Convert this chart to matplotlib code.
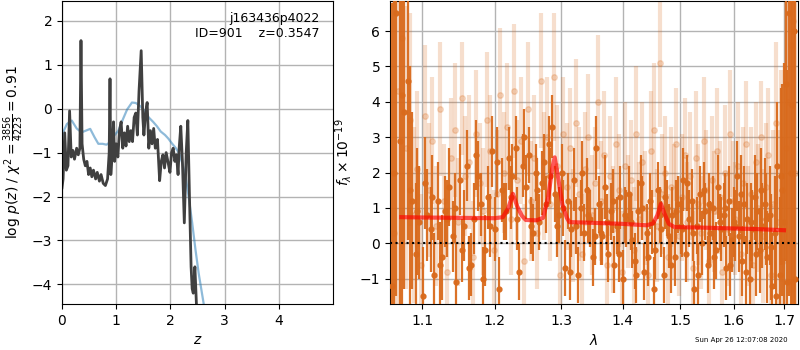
import numpy as np
import matplotlib
matplotlib.use("Agg")
import matplotlib.pyplot as plt
from matplotlib.ticker import NullLocator

# ---- p(z) panel ----
z_pz = [0.00, 0.02, 0.05, 0.08, 0.11, 0.14, 0.17, 0.20, 0.23, 0.27,
        0.30, 0.33, 0.35, 0.37, 0.40, 0.43, 0.46, 0.49, 0.52, 0.55,
        0.58, 0.62, 0.65, 0.69, 0.72, 0.76, 0.80, 0.84, 0.87, 0.885,
        0.90, 0.93, 0.95, 0.97, 1.00, 1.03, 1.06, 1.09, 1.12, 1.15,
        1.18, 1.21, 1.24, 1.27, 1.30, 1.33, 1.36, 1.39, 1.42, 1.46,
        1.49, 1.51, 1.54, 1.57, 1.60, 1.63, 1.66, 1.69, 1.72, 1.76,
        1.80, 1.83, 1.86, 1.89, 1.92, 1.96, 1.99, 2.02, 2.05, 2.08,
        2.11, 2.14, 2.16, 2.19, 2.22, 2.255, 2.29, 2.32, 2.35, 2.38,
        2.40, 2.42, 2.45, 2.48, 2.52]
logp = [-1.8, -1.6, -0.55, -1.4, -1.3, -0.05, -1.1, -0.95, -1.15, -0.9,
        -1.05, -0.9, 1.55, -0.8, -1.15, -1.3, -1.2, -1.5, -1.35, -1.55,
        -1.4, -1.6, -1.45, -1.65, -1.5, -1.7, -1.75, -1.6, -1.0, 0.68,
        -1.5, -0.9, -0.3, -1.2, -0.8, -1.1, -0.5, -0.3, -0.9, -0.55,
        -0.85, -0.4, -0.75, -0.5, -0.75, -0.2, -0.1, -0.6, 0.4, 1.32,
        -0.2, -0.6, -0.1, 0.14, -0.9, -0.5, -0.8, -0.45, -0.9, -0.7,
        -1.64, -1.2, -1.05, -1.35, -1.0, -1.25, -1.45, -1.0, -0.9, -1.2,
        -1.05, -1.5, -0.9, -0.4, -1.2, -2.6, -1.0, -0.27, -2.0, -3.6,
        -4.1, -4.2, -3.6, -4.5, -6.0]

z_prior = [0.00, 0.02, 0.09, 0.18, 0.27, 0.36, 0.44, 0.52, 0.60, 0.67,
           0.75, 0.82, 0.90, 0.97, 1.04, 1.12, 1.20, 1.29, 1.36, 1.44,
           1.52, 1.60, 1.68, 1.75, 1.82, 1.90, 1.96, 2.02, 2.10, 2.16,
           2.22, 2.28, 2.34, 2.40, 2.46, 2.52, 2.58, 2.62, 2.68]
logp_prior = [-0.7, -0.54, -0.35, -0.27, -0.45, -0.54, -0.5, -0.46, -0.65, -0.8,
              -0.8, -0.82, -0.75, -0.6, -0.5, -0.25, -0.02, 0.14, 0.13, 0.06,
              -0.05, -0.2, -0.3, -0.4, -0.52, -0.6, -0.68, -0.78, -0.9, -1.02,
              -1.25, -1.55, -2.05, -2.6, -3.2, -3.75, -4.2, -4.5, -5.2]

# ---- spectrum panel: beam A ----
wave = [1.061, 1.066, 1.071, 1.076, 1.081, 1.086, 1.091, 1.096, 1.101, 1.106,
        1.111, 1.116, 1.121, 1.126, 1.131, 1.136, 1.141, 1.146, 1.151, 1.156,
        1.161, 1.166, 1.171, 1.176, 1.181, 1.186, 1.191, 1.196, 1.201, 1.206,
        1.211, 1.216, 1.221, 1.226, 1.231, 1.236, 1.241, 1.246, 1.251, 1.256,
        1.261, 1.266, 1.271, 1.276, 1.281, 1.286, 1.291, 1.296, 1.301, 1.306,
        1.311, 1.316, 1.321, 1.326, 1.331, 1.336, 1.341, 1.346, 1.351, 1.356,
        1.361, 1.366, 1.371, 1.376, 1.381, 1.386, 1.391, 1.396, 1.401, 1.406,
        1.411, 1.416, 1.421, 1.426, 1.431, 1.436, 1.441, 1.446, 1.451, 1.456,
        1.461, 1.466, 1.471, 1.476, 1.481, 1.486, 1.491, 1.496, 1.501, 1.506,
        1.511, 1.516, 1.521, 1.526, 1.531, 1.536, 1.541, 1.546, 1.551, 1.556,
        1.561, 1.566, 1.571, 1.576, 1.581, 1.586, 1.591, 1.596, 1.601, 1.606,
        1.611, 1.616, 1.621, 1.626, 1.631, 1.636, 1.641, 1.646, 1.651, 1.656,
        1.661, 1.666, 1.671, 1.676, 1.681, 1.686, 1.691, 1.696, 1.701, 1.706,
        1.711, 1.716, 1.721]
flux = [-1.2, 6.5, 2.9, 3.7, 4.6, 1.2, -0.3, 0.6, -1.5, 0.8,
        0.4, -0.9, 1.2, -0.4, 0.9, 1.6, 0.2, -1.1, 1.8, 0.5,
        2.2, -0.6, 0.7, 1.9, 1.1, -0.2, 1.3, 2.6, 0.4, -1.3,
        1.5, 0.9, 2.4, 1.9, 2.7, -0.8, 2.2, 1.6, 2.5, 0.3,
        2.0, 0.6, 1.7, 1.1, 2.8, 3.3, 1.4, 0.8, 2.0, -0.7,
        1.2, 0.4, 1.8, -0.9, 1.0, 0.3, 1.5, 0.7, -0.4, 2.7,
        1.1, 0.2, 1.6, -0.3, 0.9, -0.6, 0.5, 1.3, -1.0, 0.7,
        1.4, 0.1, -0.5, 0.9, 1.7, -0.8, 0.3, 1.2, 0.6, -0.2,
        1.5, 0.4, -0.9, 1.0, 0.2, 0.8, -0.4, 1.1, 0.5, 1.8,
        -0.3, 0.7, 1.2, -1.3, 0.5, 1.4, 0.0, 0.9, -0.6, 0.3,
        1.0, -0.2, 1.6, 0.4, 0.8, -0.7, 1.2, 0.1, 0.6, 1.9,
        0.2, -0.5, 1.1, 0.7, -1.0, 0.4, 1.3, 0.9, -0.2, 0.5,
        1.1, -0.4, 0.8, -1.2, 0.3, 2.2, -0.9, 1.5, 0.6, -1.1,
        6.5, 3.9, 6.0]
err = [8.0, 8.0, 6.0, 5.0, 4.5, 2.5, 2.0, 1.6, 1.4, 1.3,
       1.2, 1.2, 1.1, 1.2, 1.0, 1.1, 1.0, 1.1, 1.0, 1.0,
       1.0, 0.9, 1.0, 1.0, 0.9, 1.0, 0.9, 1.0, 0.9, 0.9,
       0.9, 0.8, 0.9, 0.9, 0.9, 0.8, 0.9, 0.9, 0.8, 0.8,
       0.8, 0.8, 0.9, 0.8, 0.8, 0.9, 0.8, 0.8, 0.8, 0.8,
       0.8, 0.8, 0.9, 0.8, 0.8, 0.8, 0.9, 0.8, 0.8, 0.9,
       0.8, 0.8, 0.9, 0.8, 0.8, 0.8, 0.8, 0.9, 0.8, 0.8,
       0.8, 0.8, 0.8, 0.9, 0.8, 0.8, 0.8, 0.8, 0.9, 0.8,
       0.8, 0.8, 0.8, 0.8, 0.9, 0.8, 0.8, 0.8, 0.8, 0.9,
       0.8, 0.8, 0.9, 0.8, 0.8, 0.8, 0.9, 0.8, 0.8, 0.9,
       0.9, 0.8, 0.9, 0.9, 0.9, 0.9, 1.0, 0.9, 1.0, 1.0,
       1.0, 1.0, 1.1, 1.0, 1.1, 1.1, 1.2, 1.1, 1.2, 1.2,
       1.3, 1.3, 1.4, 1.5, 1.6, 1.8, 2.2, 3.0, 4.5, 6.0,
       8.0, 8.0, 8.0]

# beam B (coarser sampling)
wave_b = [1.0635, 1.0735, 1.0835, 1.0935, 1.1035, 1.1135, 1.1235, 1.1335, 1.1435, 1.1535,
          1.1635, 1.1735, 1.1835, 1.1935, 1.2035, 1.2135, 1.2235, 1.2335, 1.2435, 1.2535,
          1.2635, 1.2735, 1.2835, 1.2935, 1.3035, 1.3135, 1.3235, 1.3335, 1.3435, 1.3535,
          1.3635, 1.3735, 1.3835, 1.3935, 1.4035, 1.4135, 1.4235, 1.4335, 1.4435, 1.4535,
          1.4635, 1.4735, 1.4835, 1.4935, 1.5035, 1.5135, 1.5235, 1.5335, 1.5435, 1.5535,
          1.5635, 1.5735, 1.5835, 1.5935, 1.6035, 1.6135, 1.6235, 1.6335, 1.6435, 1.6535,
          1.6635, 1.6735, 1.6835, 1.6935, 1.7035, 1.7135, 1.7235]
flux_b = [2.0, 4.2, 1.5, 0.9, 1.7, 1.3, -0.6, 0.7, 1.0, -0.2,
          -0.7, 2.5, -1.0, 0.5, 2.3, 0.9, 1.3, 0.7, 3.0, 0.5,
          1.5, 2.3, 1.9, 0.5, 1.0, -0.8, 0.5, 2.0, 0.8, 0.2,
          0.3, 0.6, 1.2, -0.3, 0.8, 0.6, -0.9, 1.0, -0.4, -1.3,
          0.8, 1.3, -0.6, 0.9, 0.4, 1.7, 0.3, -0.9, 1.5, 1.1,
          -0.4, 0.6, 1.0, -0.6, 0.5, 1.4, -0.8, 0.6, -0.3, 1.5,
          0.7, -0.1, -1.5, 1.9, 4.5, 2.0, -1.0]
err_b = [8.0, 6.0, 3.5, 1.8, 1.3, 1.2, 1.2, 1.1, 1.0, 0.9,
         0.9, 1.0, 0.9, 0.9, 1.0, 0.8, 0.9, 0.9, 0.8, 0.8,
         0.9, 0.8, 0.8, 0.9, 0.8, 0.8, 0.8, 0.9, 0.8, 0.8,
         0.9, 0.8, 0.9, 0.8, 0.8, 0.8, 0.8, 0.9, 0.8, 0.9,
         0.8, 0.9, 0.8, 0.9, 0.8, 0.8, 0.8, 0.9, 0.8, 0.9,
         0.9, 0.8, 1.0, 0.9, 1.0, 1.1, 1.0, 1.1, 1.2, 1.2,
         1.3, 1.5, 1.7, 2.5, 5.0, 8.0, 8.0]

# faint (down-weighted) pixels on a shifted grid
wave_faint = [1.0635, 1.0685, 1.0735, 1.0785, 1.0835, 1.0885, 1.0935, 1.0985, 1.1035, 1.1085,
              1.1135, 1.1185, 1.1235, 1.1285, 1.1335, 1.1385, 1.1435, 1.1485, 1.1535, 1.1585,
              1.1635, 1.1685, 1.1735, 1.1785, 1.1835, 1.1885, 1.1935, 1.1985, 1.2035, 1.2085,
              1.2135, 1.2185, 1.2235, 1.2285, 1.2335, 1.2385, 1.2435, 1.2485, 1.2535, 1.2585,
              1.2635, 1.2685, 1.2735, 1.2785, 1.2835, 1.2885, 1.2935, 1.2985, 1.3035, 1.3085,
              1.3135, 1.3185, 1.3235, 1.3285, 1.3335, 1.3385, 1.3435, 1.3485, 1.3535, 1.3585,
              1.3635, 1.3685, 1.3735, 1.3785, 1.3835, 1.3885, 1.3935, 1.3985, 1.4035, 1.4085,
              1.4135, 1.4185, 1.4235, 1.4285, 1.4335, 1.4385, 1.4435, 1.4485, 1.4535, 1.4585,
              1.4635, 1.4685, 1.4735, 1.4785, 1.4835, 1.4885, 1.4935, 1.4985, 1.5035, 1.5085,
              1.5135, 1.5185, 1.5235, 1.5285, 1.5335, 1.5385, 1.5435, 1.5485, 1.5535, 1.5585,
              1.5635, 1.5685, 1.5735, 1.5785, 1.5835, 1.5885, 1.5935, 1.5985, 1.6035, 1.6085,
              1.6135, 1.6185, 1.6235, 1.6285, 1.6335, 1.6385, 1.6435, 1.6485, 1.6535, 1.6585,
              1.6635, 1.6685, 1.6735, 1.6785, 1.6835, 1.6885, 1.6935, 1.6985, 1.7035, 1.7085,
              1.7135, 1.7185, 1.7235]
flux_faint = [0.3, 4.3, 5.8, 2.7, 3.5, 0.8, 2.1, -0.6, 3.6, 1.5,
              2.9, 0.5, 3.8, 1.2, -0.8, 2.4, 3.2, 0.6, 4.1, 1.9,
              2.3, -0.4, 3.1, 1.7, 0.9, 3.5, 2.6, -0.2, 1.4, 4.2,
              2.0, 3.3, 0.7, 4.3, 1.8, 2.9, -0.5, 3.8, 1.2, 2.4,
              0.3, 4.6, 1.9, 3.0, 1.1, 4.7, 2.2, -0.9, 3.1, 1.6,
              2.7, 0.5, 3.4, 1.4, -0.3, 2.1, 3.0, 0.8, 1.7, 4.0,
              1.2, 2.5, -0.6, 1.9, 0.4, 2.8, 1.5, -0.8, 2.2, 0.9,
              1.8, -0.2, 3.1, 0.7, 2.3, 1.0, -0.9, 2.6, 3.2, 0.5,
              5.1, 1.4, 2.0, -0.4, 1.6, 0.9, 2.8, 0.2, 1.3, 2.5,
              0.6, 1.9, -0.7, 2.4, 1.1, 0.3, 2.9, 1.5, -0.5, 1.8,
              0.9, 2.6, 1.3, -0.8, 2.0, 0.4, 3.1, 1.2, 0.7, 2.2,
              -0.3, 1.7, 2.8, 0.5, 1.4, -0.6, 2.3, 1.0, 3.0, 0.2,
              1.6, 2.5, -0.9, 1.1, 3.4, 0.6, 1.9, -0.5, 2.7, 4.0,
              5.6, 6.3, 2.0]
err_faint = [8.0, 7.0, 6.0, 4.0, 3.0, 2.5, 2.2, 2.0, 2.0, 1.9,
             1.8, 1.7, 1.9, 1.6, 1.8, 1.7, 1.9, 1.8, 1.6, 1.7,
             1.9, 1.6, 1.8, 1.7, 1.8, 1.9, 1.6, 1.7, 1.8, 1.9,
             1.7, 1.8, 1.6, 1.9, 1.7, 1.8, 1.6, 1.9, 1.7, 1.8,
             1.6, 1.9, 1.8, 1.7, 1.6, 1.8, 1.7, 1.9, 1.6, 1.8,
             1.7, 1.6, 1.8, 1.9, 1.7, 1.6, 1.8, 1.7, 1.6, 1.9,
             1.7, 1.8, 1.6, 1.7, 1.8, 1.9, 1.6, 1.7, 1.8, 1.6,
             1.7, 1.8, 1.9, 1.6, 1.7, 1.6, 1.8, 1.7, 1.9, 1.6,
             1.8, 1.7, 1.6, 1.8, 1.7, 1.9, 1.6, 1.7, 1.8, 1.6,
             1.7, 1.8, 1.6, 1.9, 1.7, 1.6, 1.8, 1.7, 1.6, 1.8,
             1.7, 1.8, 1.6, 1.7, 1.9, 1.6, 1.8, 1.7, 1.6, 1.8,
             1.7, 1.6, 1.8, 1.7, 1.9, 1.6, 1.7, 1.8, 1.6, 1.9,
             1.8, 1.9, 2.0, 2.1, 2.3, 2.6, 3.0, 3.5, 4.5, 5.5,
             7.0, 8.0, 8.0]

wave_model = [1.0725, 1.10, 1.15, 1.20, 1.212, 1.220, 1.2267, 1.233, 1.240, 1.246,
              1.262, 1.272, 1.280, 1.286, 1.290, 1.295, 1.302, 1.309, 1.313, 1.35,
              1.40, 1.441, 1.452, 1.460, 1.466, 1.472, 1.480, 1.490, 1.55, 1.60,
              1.65, 1.70]
flux_model = [0.74, 0.73, 0.72, 0.71, 0.74, 1.0, 1.40, 1.05, 0.78, 0.66,
              0.65, 0.72, 1.3, 2.1, 2.43, 1.9, 1.1, 0.72, 0.60, 0.58,
              0.55, 0.51, 0.56, 0.8, 1.12, 0.85, 0.55, 0.46, 0.44, 0.42,
              0.40, 0.37]

xticks = [1.1, 1.2, 1.3, 1.4, 1.5, 1.6, 1.7]
xticklabels = ["1.1", "1.2", "1.3", "1.4", "1.5", "1.6", "1.7"]

orange = "#d96a1c"

fig = plt.figure(figsize=(8, 3.5), dpi=100)
ax1 = fig.add_axes([0.0775, 0.131, 0.339, 0.866])
ax2 = fig.add_axes([0.4875, 0.131, 0.51, 0.866])

# p(z)
ax1.plot(z_prior, logp_prior, color="tab:blue", alpha=0.5, lw=1.6)
ax1.plot(z_pz, logp, color="0.25", lw=2)
ax1.set_xlim(0, 5.0)
ax1.set_ylim(-4.45, 2.45)
ax1.set_xticks([0, 1, 2, 3, 4])
ax1.set_yticks([-4, -3, -2, -1, 0, 1, 2])
ax1.grid(color="0.7", lw=1)
ax1.set_xlabel(r"$z$")
ax1.set_ylabel(r"log $p(z)$ / $\chi^2=\frac{3856}{4223}=0.91$")
ax1.text(0.95, 0.965, "j163436p4022\nID=901    z=0.3547", transform=ax1.transAxes,
         ha="right", va="top", fontsize=9)

# spectrum
ax2.errorbar(wave_faint, flux_faint, yerr=err_faint, fmt="o", color=orange, alpha=0.22,
             ms=4, lw=3, zorder=2)
ax2.errorbar(wave, flux, yerr=err, fmt="o", color=orange, alpha=0.95,
             ms=3.5, lw=1.6, zorder=3)
ax2.errorbar(wave_b, flux_b, yerr=err_b, fmt="o", color=orange, alpha=0.95,
             ms=3.5, lw=1.6, zorder=3)
ax2.plot(wave_model, flux_model, color="red", alpha=0.65, lw=3, zorder=4)
ax2.axhline(0, color="k", ls=":", lw=1.5, zorder=5)
ax2.set_xscale("log")
ax2.set_xlim(1.058, 1.729)
ax2.set_ylim(-1.72, 6.85)
ax2.set_xticks(xticks)
ax2.set_xticklabels(xticklabels)
ax2.xaxis.set_minor_locator(NullLocator())
ax2.set_yticks([-1, 0, 1, 2, 3, 4, 5, 6])
ax2.grid(color="0.7", lw=1)
ax2.set_axisbelow(True)
ax2.set_xlabel(r"$\lambda$")
ax2.set_ylabel(r"$f_\lambda\times 10^{-19}$")

fig.text(0.984, 0.029, "Sun Apr 26 12:07:08 2020", ha="right", va="center", fontsize=5)

fig.savefig("out.png", dpi=100)
